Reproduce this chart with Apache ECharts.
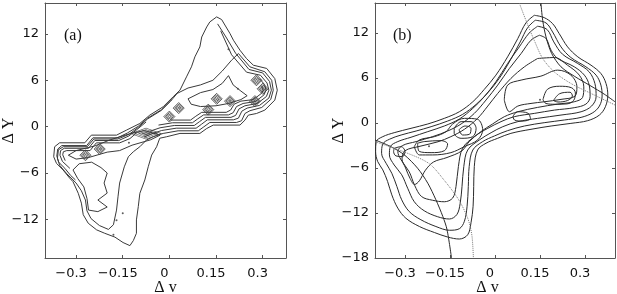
<!DOCTYPE html>
<html><head><meta charset="utf-8">
<script src="https://cdn.jsdelivr.net/npm/echarts@6/dist/echarts.min.js"></script>
<style>html,body{margin:0;padding:0;background:#fff}#c{width:617px;height:294px}</style>
</head><body><div id="c"></div>
<script>
// ---------- tick data ----------
const xTicks = [-0.3, -0.15, 0, 0.15, 0.3];
const xTickLabels = ['−0.3', '−0.15', '0', '0.15', '0.3'];
const yTicksA = [-12, -6, 0, 6, 12];
const yTickLabelsA = ['−12', '−6', '0', '6', '12'];
const yTicksB = [-18, -12, -6, 0, 6, 12];
const yTickLabelsB = ['−18', '−12', '−6', '0', '6', '12'];

// ---------- panel (a) contours (Δv, ΔY) ----------
const aOuter = [[0.152,14.2],[0.168,13.86],[0.195,12.04],[0.206,11.18],[0.227,9.89],[0.248,8.81],[0.27,7.95],[0.313,7.53],[0.339,6.22],[0.347,4.72],[0.339,3.43],[0.307,2.14],[0.28,1.7],[0.254,1.49],[0.243,0.84],[0.227,0.2],[0.141,0.2],[0.12,-0.24],[0.098,-0.88],[0.034,-0.88],[-0.009,-1.31],[-0.031,-1.5],[-0.041,-2.6],[-0.057,-3.68],[-0.068,-5.19],[-0.079,-6.9],[-0.095,-8.63],[-0.1,-10.35],[-0.106,-12.07],[-0.106,-13.8],[-0.116,-14.75],[-0.127,-15.4],[-0.149,-15.0],[-0.175,-14.3],[-0.208,-13.8],[-0.234,-13.36],[-0.261,-12.5],[-0.277,-11.4],[-0.283,-9.9],[-0.293,-8.63],[-0.31,-7.12],[-0.32,-6.7],[-0.342,-5.6],[-0.363,-4.76],[-0.372,-3.9],[-0.369,-2.6],[-0.353,-2.09],[-0.272,-2.09],[-0.251,-1.1],[-0.17,-1.1],[-0.138,-0.45],[-0.095,0.41],[-0.063,1.49],[-0.02,2.57],[0.012,3.86],[0.034,4.72],[0.055,6.44],[0.071,7.74],[0.082,9.03],[0.098,10.32],[0.104,11.6],[0.12,12.9],[0.13,13.55],[0.152,14.2]];
const aSecond = [[0.222,9.46],[0.259,7.74],[0.307,7.1],[0.329,6.0],[0.334,4.72],[0.326,3.52],[0.297,2.48],[0.259,2.06],[0.243,1.7],[0.232,0.76],[0.216,0.54],[0.13,0.54],[0.111,-0.02],[0.093,-0.54],[0.028,-0.54],[-0.02,-0.88],[-0.052,-1.31],[-0.074,-1.74],[-0.095,-2.6],[-0.116,-3.25],[-0.132,-3.9],[-0.145,-5.2],[-0.16,-7.3],[-0.165,-9.0],[-0.17,-10.8],[-0.18,-12.7],[-0.196,-13.3],[-0.225,-12.8],[-0.252,-11.9],[-0.265,-10.9],[-0.27,-9.5],[-0.283,-8.3],[-0.3,-7.3],[-0.33,-6.1],[-0.353,-5.0],[-0.36,-4.1],[-0.357,-3.0],[-0.341,-2.6],[-0.264,-2.6],[-0.243,-1.6],[-0.166,-1.6],[-0.13,-1.0],[-0.1,-0.1],[-0.07,1.0],[-0.026,2.1],[0.004,3.3],[0.025,4.3],[0.06,5.0],[0.1,5.4],[0.14,6.0],[0.17,7.2],[0.2,8.6],[0.222,9.46]];
const aBand1 = [[0.155,13.3],[0.182,11.6],[0.213,9.5],[0.256,7.4],[0.3,6.95],[0.322,5.85],[0.328,4.72],[0.32,3.7],[0.29,2.75],[0.25,2.4],[0.233,2.0],[0.222,1.1],[0.206,0.88],[0.122,0.88],[0.103,0.3],[0.086,-0.2],[0.022,-0.2],[-0.025,-0.5],[-0.058,-0.95],[-0.082,-1.35]];
const aBand2 = [[0.165,12.4],[0.2,9.3],[0.248,7.05],[0.293,6.65],[0.314,5.65],[0.32,4.72],[0.312,3.9],[0.283,3.0],[0.243,2.7],[0.224,2.3],[0.213,1.45],[0.198,1.2],[0.116,1.2],[0.097,0.65],[0.08,0.15],[0.016,0.15],[-0.03,-0.15],[-0.063,-0.6]];
const aBand3 = [[0.29,6.2],[0.306,5.45],[0.311,4.72],[0.304,4.1],[0.277,3.25],[0.237,3.0],[0.216,2.6],[0.205,1.8],[0.19,1.52],[0.11,1.52],[0.091,1.0],[0.074,0.5],[0.01,0.5],[-0.035,0.2]];
const aBand4 = [[0.297,5.25],[0.302,4.72],[0.296,4.3],[0.27,3.5],[0.23,3.3],[0.208,2.9],[0.197,2.15],[0.183,1.85],[0.104,1.85],[0.085,1.35],[0.068,0.85],[0.004,0.85]];
const aLeftBand1 = [[-0.302,-6.9],[-0.318,-6.3],[-0.336,-5.4],[-0.356,-4.6],[-0.362,-3.8],[-0.359,-2.9],[-0.346,-2.45],[-0.266,-2.45],[-0.246,-1.45],[-0.167,-1.45],[-0.135,-0.82],[-0.1,0.05],[-0.07,1.1],[-0.025,2.2],[0.008,3.5]];
const aLeftBand2 = [[-0.32,-5.4],[-0.344,-4.5],[-0.352,-3.7],[-0.35,-3.1],[-0.338,-2.8],[-0.26,-2.8],[-0.24,-1.8],[-0.163,-1.8],[-0.13,-1.2],[-0.105,-0.4],[-0.075,0.6]];
const aLeftBand3 = [[-0.335,-4.4],[-0.343,-3.65],[-0.341,-3.25],[-0.33,-3.1],[-0.255,-3.1],[-0.235,-2.1],[-0.16,-2.1],[-0.127,-1.55],[-0.108,-0.9]];
const aInner1 = [[0.06,3.6],[0.1,4.4],[0.14,4.8],[0.17,5.6],[0.19,6.6],[0.205,5.4],[0.23,4.6],[0.25,4.0],[0.23,3.5],[0.19,3.0],[0.15,2.7],[0.1,2.6],[0.07,2.9],[0.06,3.6]];
const aInner2 = [[-0.25,-4.6],[-0.22,-5.3],[-0.2,-6.0],[-0.21,-7.3],[-0.2,-8.6],[-0.23,-9.5],[-0.2,-10.4],[-0.23,-11.0],[-0.26,-10.8],[-0.265,-9.3],[-0.275,-7.8],[-0.295,-6.7],[-0.31,-5.6],[-0.29,-4.8],[-0.25,-4.6]];
const aInner3 = [[-0.2,-3.3],[-0.16,-3.1],[-0.12,-2.4],[-0.06,-1.7],[-0.03,-1.1],[-0.08,-0.5],[-0.13,-0.95],[-0.19,-1.7],[-0.24,-2.5],[-0.3,-3.1],[-0.325,-3.7],[-0.3,-4.2],[-0.26,-4.0],[-0.2,-3.3]];
const aHotSpots = [[0.28,6.0],[0.3,4.9],[0.275,3.3],[0.195,3.3],[0.152,3.6],[0.125,2.2],[0.03,2.4],[0.0,1.3],[-0.224,-2.9],[-0.27,-3.7]];
const aHotLong = [[-0.075,-0.9]];
const aDots = [[-0.17,-12.1],[-0.15,-11.2],[-0.18,-14.0],[0.22,4.9],[0.19,10.0],[-0.13,-2.1]];

// ---------- panel (b) contours ----------
const bL1 = [[0.131,14.36],[0.164,14.05],[0.192,13.25],[0.214,11.92],[0.242,10.15],[0.276,8.82],[0.32,7.71],[0.353,6.6],[0.37,5.27],[0.376,3.72],[0.368,2.17],[0.348,1.06],[0.309,0.31],[0.253,-0.05],[0.187,-0.4],[0.12,-0.84],[0.053,-1.38],[0.009,-2.04],[-0.03,-2.7],[-0.058,-3.6],[-0.069,-5.8],[-0.071,-8.47],[-0.073,-11.1],[-0.08,-13.3],[-0.091,-14.9],[-0.119,-15.47],[-0.158,-15.2],[-0.202,-14.6],[-0.252,-13.8],[-0.297,-12.7],[-0.324,-11.35],[-0.344,-9.58],[-0.358,-7.8],[-0.374,-6.25],[-0.391,-5.14],[-0.398,-3.8],[-0.396,-2.48],[-0.374,-1.82],[-0.336,-1.29],[-0.28,-0.71],[-0.224,-0.13],[-0.169,0.62],[-0.119,1.5],[-0.074,2.83],[-0.036,4.47],[0.003,6.38],[0.042,8.82],[0.076,11.26],[0.103,13.34],[0.131,14.36]];
const bL2 = [[0.134,13.7],[0.17,13.34],[0.192,12.14],[0.22,10.15],[0.253,8.73],[0.303,7.49],[0.337,6.38],[0.353,5.05],[0.357,3.59],[0.348,2.26],[0.326,1.37],[0.287,0.75],[0.231,0.4],[0.164,0.04],[0.098,-0.4],[0.042,-1.02],[-0.002,-1.73],[-0.041,-2.48],[-0.074,-3.6],[-0.086,-5.8],[-0.089,-8.47],[-0.093,-11.1],[-0.102,-13.1],[-0.119,-14.1],[-0.152,-14.3],[-0.197,-13.8],[-0.247,-12.9],[-0.286,-11.8],[-0.311,-10.24],[-0.327,-8.47],[-0.344,-6.7],[-0.363,-5.37],[-0.378,-4.04],[-0.374,-2.8],[-0.352,-2.17],[-0.313,-1.6],[-0.263,-1.07],[-0.213,-0.49],[-0.158,0.26],[-0.108,1.15],[-0.063,2.48],[-0.024,4.03],[0.014,5.94],[0.051,8.38],[0.084,10.81],[0.109,12.72],[0.134,13.7]];
const bL3 = [[0.142,12.9],[0.174,12.45],[0.196,10.81],[0.225,9.17],[0.276,7.93],[0.314,6.82],[0.333,5.27],[0.337,3.5],[0.322,2.26],[0.287,1.5],[0.22,1.06],[0.142,0.62],[0.076,0.18],[0.026,-0.49],[-0.013,-1.29],[-0.052,-2.26],[-0.091,-3.6],[-0.104,-5.8],[-0.11,-8.47],[-0.116,-10.7],[-0.127,-12.2],[-0.152,-12.8],[-0.191,-12.5],[-0.236,-11.7],[-0.269,-10.5],[-0.291,-8.7],[-0.311,-6.9],[-0.336,-5.6],[-0.352,-4.26],[-0.349,-3.15],[-0.324,-2.48],[-0.28,-1.9],[-0.224,-1.15],[-0.169,-0.4],[-0.119,0.53],[-0.074,1.95],[-0.036,3.5],[0.003,5.5],[0.042,7.93],[0.081,10.15],[0.114,12.0],[0.142,12.9]];
const bL4 = [[0.148,11.7],[0.17,11.26],[0.187,9.7],[0.209,8.6],[0.264,7.5],[0.298,6.38],[0.314,5.05],[0.317,3.5],[0.303,2.52],[0.264,2.04],[0.198,1.72],[0.131,1.28],[0.064,0.84],[0.02,0.18],[-0.024,-0.71],[-0.069,-1.82],[-0.108,-3.37],[-0.122,-5.8],[-0.13,-8.47],[-0.141,-10.0],[-0.169,-10.5],[-0.208,-10.3],[-0.245,-9.8],[-0.268,-8.3],[-0.286,-6.5],[-0.313,-4.92],[-0.324,-3.8],[-0.308,-3.0],[-0.263,-2.48],[-0.208,-1.82],[-0.158,-1.07],[-0.113,-0.13],[-0.069,1.28],[-0.03,3.06],[0.009,5.05],[0.048,7.27],[0.087,9.26],[0.12,11.04],[0.148,11.7]];
const bL5 = [[0.142,8.6],[0.198,8.73],[0.242,7.7],[0.281,6.38],[0.296,4.82],[0.292,3.41],[0.264,2.83],[0.209,2.52],[0.142,2.08],[0.076,1.5],[0.031,0.84],[-0.008,-0.13],[-0.047,-1.15],[-0.086,-2.48],[-0.11,-3.7],[-0.16,-4.6],[-0.205,-5.2],[-0.232,-6.3],[-0.252,-7.7],[-0.268,-8.2],[-0.283,-7.4],[-0.298,-6.0],[-0.31,-4.8],[-0.3,-3.7],[-0.25,-3.1],[-0.19,-2.5],[-0.147,-1.82],[-0.102,-0.84],[-0.058,0.62],[-0.024,2.26],[0.009,3.94],[0.053,5.94],[0.098,7.49],[0.142,8.6]];
const bRight6 = [[0.031,3.06],[0.042,5.05],[0.087,5.72],[0.153,6.25],[0.209,7.05],[0.253,6.38],[0.273,4.82],[0.267,3.59],[0.22,3.15],[0.164,2.83],[0.12,2.61],[0.076,2.26],[0.048,1.5],[0.031,3.06]];
const bRight7 = [[0.16,3.1],[0.175,4.5],[0.215,4.9],[0.255,4.7],[0.268,4.0],[0.262,3.0],[0.24,2.55],[0.2,2.5],[0.17,2.6],[0.16,3.1]];
const bRight8 = [[0.195,3.0],[0.215,3.9],[0.25,4.1],[0.258,3.6],[0.242,3.0],[0.21,2.8],[0.195,3.0]];
const bSmall = [[0.06,0.9],[0.075,1.5],[0.11,1.3],[0.118,0.6],[0.09,0.25],[0.065,0.4],[0.06,0.9]];
const bLeft6 = [[-0.269,-3.15],[-0.252,-2.26],[-0.202,-1.82],[-0.163,-1.15],[-0.141,-0.13],[-0.102,0.62],[-0.058,0.49],[-0.041,-0.93],[-0.058,-2.26],[-0.102,-3.15],[-0.147,-3.95],[-0.208,-4.26],[-0.252,-4.26],[-0.269,-3.15]];
const bLeft7 = [[-0.258,-2.7],[-0.236,-2.48],[-0.18,-2.35],[-0.158,-2.8],[-0.169,-3.7],[-0.213,-3.95],[-0.252,-3.8],[-0.258,-2.7]];
const bLeftPeak = [[-0.136,-0.71],[-0.113,0.18],[-0.08,0.18],[-0.063,-0.71],[-0.074,-1.82],[-0.113,-2.04],[-0.136,-1.38],[-0.136,-0.71]];
const bLeftPeakIn = [[-0.12,-0.9],[-0.1,-0.4],[-0.08,-0.7],[-0.085,-1.5],[-0.108,-1.6],[-0.12,-0.9]];
const bFarLeft = [[-0.336,-3.37],[-0.313,-3.15],[-0.3,-3.8],[-0.308,-4.48],[-0.33,-4.39],[-0.338,-3.8],[-0.336,-3.37]];
const bArcUpper = [[0.153,16],[0.159,13.7],[0.17,11.48],[0.189,9.26],[0.22,7.49],[0.264,6.25],[0.32,4.92],[0.364,3.85],[0.4,2.83]];
const bArcLower = [[-0.4,-2.26],[-0.347,-3.15],[-0.302,-4.26],[-0.258,-6.03],[-0.224,-8.03],[-0.197,-10.24],[-0.174,-12.46],[-0.16,-14.2],[-0.145,-18]];
const bDotUpper = [[0.081,16],[0.103,13.7],[0.131,11.0],[0.159,8.6],[0.198,6.8],[0.253,5.27],[0.32,3.94],[0.4,2.4]];
const bDotLower = [[-0.4,-2.5],[-0.3,-3.9],[-0.22,-5.4],[-0.17,-7.6],[-0.12,-10.3],[-0.09,-12.8],[-0.077,-15],[-0.072,-18]];
const bDots = [[0.15,3.1],[-0.22,-3.1]];

// ---------- build chart ----------
const LINE = '#2a2a2a';
const AX = '#555';
function fmt(list, labels){ return function(v){ for(let i=0;i<list.length;i++){ if(Math.abs(list[i]-v)<1e-6) return labels[i]; } return ''; }; }
const tickFont = {fontFamily:'DejaVu Sans', fontSize:13, color:'#111'};
function xAx(grid, min, max, main){
  return {type:'value', gridIndex:grid, min:min, max:max, position: main?'bottom':'top',
    axisLine:{show:true, onZero:false, lineStyle:{color:AX, width:1}},
    axisTick:{show:true, inside:true, length:3, customValues:xTicks, lineStyle:{color:AX}},
    axisLabel:{show:main, customValues:xTicks, formatter:fmt(xTicks,xTickLabels), margin:9, padding:[0,10,0,0], ...tickFont},
    splitLine:{show:false},
    name: main?'Δ v':'', nameLocation:'middle', nameGap:22, nameMoveOverlap:false,
    nameTextStyle:{fontFamily:'Liberation Serif', fontSize:16, color:'#111', padding: grid===1?[0,15,0,0]:[0,0,0,0]}};
}
function yAx(grid, min, max, ticks, labels, main){
  return {type:'value', gridIndex:grid, min:min, max:max, position: main?'left':'right',
    axisLine:{show:true, onZero:false, lineStyle:{color:AX, width:1}},
    axisTick:{show:true, inside:true, length:3, customValues:ticks, lineStyle:{color:AX}},
    axisLabel:{show:main, customValues:ticks, formatter:fmt(ticks,labels), margin:6, ...tickFont},
    splitLine:{show:false},
    name: main?'Δ Y':'', nameLocation:'middle', nameGap:28, nameRotate:90, nameMoveOverlap:false,
    nameTextStyle:{fontFamily:'Liberation Serif', fontSize:16, color:'#111'}};
}
function ln(data, ax, opt){
  opt = opt||{};
  return {type:'line', xAxisIndex:ax, yAxisIndex:ax, data:data, showSymbol:false, silent:true,
    smooth: opt.smooth||false, animation:false,
    lineStyle:{color:opt.color||LINE, width:opt.width||1, type:opt.type||'solid'}};
}
function diamonds(data, ax, size){
  return {type:'scatter', xAxisIndex:ax, yAxisIndex:ax, data:data, symbol:'diamond', symbolSize:size, silent:true, animation:false,
    itemStyle:{color:'rgba(0,0,0,0)', borderColor:'#333', borderWidth:1}};
}
const series = [];
[aOuter,aSecond,aBand1,aBand2,aBand3,aBand4,aLeftBand1,aLeftBand2,aLeftBand3,aInner1,aInner2,aInner3].forEach(d=>series.push(ln(d,0,{color:'#3a3a3a'})));
[[11,11],[8,8],[5,5],[2,2]].forEach(s=>series.push(diamonds(aHotSpots,0,s)));
[[30,11],[22,8],[14,5],[6,2]].forEach(s=>series.push(diamonds(aHotLong,0,s)));
series.push({type:'scatter', xAxisIndex:0, yAxisIndex:0, data:aDots, symbolSize:2, silent:true, animation:false, itemStyle:{color:'#333'}});
[bL1,bL2,bL3,bL4,bL5,bRight6,bRight7,bRight8,bSmall,bLeft6,bLeft7,bLeftPeak,bLeftPeakIn,bFarLeft].forEach(d=>series.push(ln(d,2,{smooth:0.35})));
series.push(ln(bArcUpper,2,{smooth:0.3}));
series.push(ln(bArcLower,2,{smooth:0.3}));
series.push(ln(bDotUpper,2,{smooth:0.3,type:'dotted',color:'#777'}));
series.push(ln(bDotLower,2,{smooth:0.3,type:'dotted',color:'#777'}));
series.push({type:'scatter', xAxisIndex:2, yAxisIndex:2, data:bDots, symbolSize:2, silent:true, animation:false, itemStyle:{color:'#333'}});

const chart = echarts.init(document.getElementById('c'), null, {renderer:'canvas'});
chart.setOption({
  animation:false,
  backgroundColor:'#fff',
  title:[
    {text:'(a)', left:59, top:23, textStyle:{fontFamily:'Liberation Serif', fontSize:16, fontWeight:'normal', color:'#111'}},
    {text:'(b)', left:388, top:23, textStyle:{fontFamily:'Liberation Serif', fontSize:16, fontWeight:'normal', color:'#111'}}
  ],
  grid:[{left:45, top:3, width:241, height:255, outerBoundsMode:'none', containLabel:false}, {left:375, top:3, width:240, height:255, outerBoundsMode:'none', containLabel:false}],
  xAxis:[xAx(0,-0.4,0.375,true), xAx(0,-0.4,0.375,false), xAx(1,-0.4,0.4,true), xAx(1,-0.4,0.4,false)],
  yAxis:[yAx(0,-17,16,yTicksA,yTickLabelsA,true), yAx(0,-17,16,yTicksA,yTickLabelsA,false), yAx(1,-18,16,yTicksB,yTickLabelsB,true), yAx(1,-18,16,yTicksB,yTickLabelsB,false)],
  series: series
});
</script></body></html>
